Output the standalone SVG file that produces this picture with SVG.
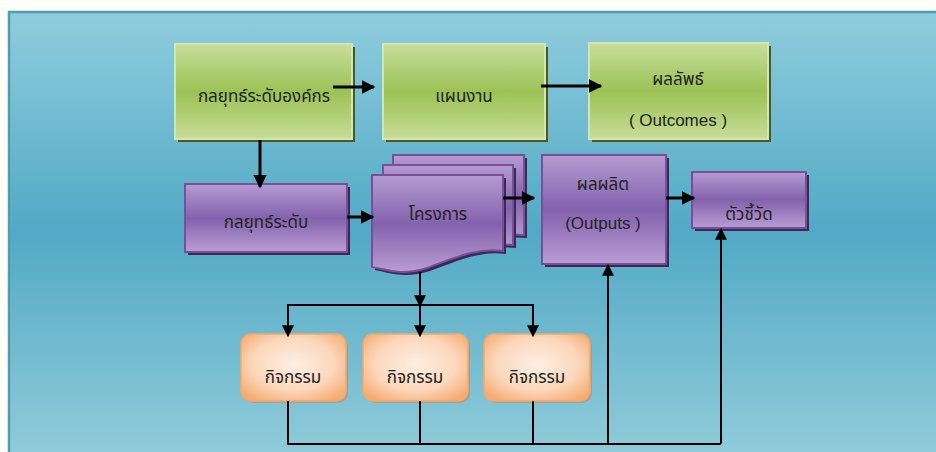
<svg xmlns="http://www.w3.org/2000/svg" width="936" height="452" viewBox="0 0 936 452">
  <defs>
    <linearGradient id="panelGrad" x1="0" y1="0" x2="0" y2="1">
      <stop offset="0" stop-color="#8fcddd"/>
      <stop offset="0.5" stop-color="#52a9c5"/>
      <stop offset="1" stop-color="#8fcbd9"/>
    </linearGradient>
    <linearGradient id="greenGrad" x1="0" y1="0" x2="0" y2="1">
      <stop offset="0" stop-color="#c8de9c"/>
      <stop offset="0.5" stop-color="#9cc255"/>
      <stop offset="1" stop-color="#c6dc97"/>
    </linearGradient>
    <linearGradient id="purpleGrad" x1="0" y1="0" x2="0" y2="1">
      <stop offset="0" stop-color="#b69bd2"/>
      <stop offset="0.5" stop-color="#8262ad"/>
      <stop offset="1" stop-color="#b99dd3"/>
    </linearGradient>
    <radialGradient id="orangeGrad" cx="0.5" cy="0.45" r="0.65">
      <stop offset="0" stop-color="#fdefe4"/>
      <stop offset="0.6" stop-color="#fbd7bb"/>
      <stop offset="1" stop-color="#f5ac72"/>
    </radialGradient>
    <marker id="arrow" viewBox="0 0 10 10" refX="9" refY="5" markerWidth="4.5" markerHeight="4.5" orient="auto" markerUnits="strokeWidth">
      <path d="M0,0 L10,5 L0,10 Z" fill="#000"/>
    </marker>
    <marker id="arrowThin" viewBox="0 0 10 10" refX="9" refY="5" markerWidth="6" markerHeight="6" orient="auto" markerUnits="strokeWidth">
      <path d="M0,0 L10,5 L0,10 Z" fill="#000"/>
    </marker>
  </defs>
  <style>
    .green { fill: url(#greenGrad); stroke: #d4e6ad; stroke-width: 2; }
    .greenShadow { fill: #4b5a22; }
    .purple { fill: url(#purpleGrad); stroke: #7b4e9c; stroke-width: 2; }
    .purpleShadow { fill: #3a2b52; }
    .orange { fill: url(#orangeGrad); stroke: #f3a96b; stroke-width: 1.5; }
    .orangeShadow { fill: #b98a68; opacity: 0.6; }
    .label { font-family: "Noto Sans Thai", "Noto Sans", "DejaVu Sans", sans-serif; font-size: 17px; fill: #222; text-anchor: middle; }
    .latin { font-family: "Liberation Sans", Arial, sans-serif; font-size: 17px; fill: #222; text-anchor: middle; }
    .thick { stroke: #000; stroke-width: 3; fill: none; }
    .thin { stroke: #000; stroke-width: 2; fill: none; }
  </style>

  <!-- page and panel -->
  <rect x="0" y="0" width="936" height="452" fill="#fffffa"/>
  <rect x="8" y="11" width="928" height="441" fill="url(#panelGrad)"/>
  <path d="M9,452 V12 H936" fill="none" stroke="#4e9eae" stroke-width="2.5"/>

  <!-- top row -->
  <g id="org-strategy">
    <rect class="greenShadow" x="178" y="47" width="177" height="95"/>
    <rect class="green" x="175" y="44" width="177" height="95"/>
    <text class="label" x="264" y="102">กลยุทธ์ระดับองค์กร</text>
  </g>
  <g id="work-plan">
    <rect class="greenShadow" x="386" y="47" width="162" height="95"/>
    <rect class="green" x="383" y="44" width="162" height="95"/>
    <text class="label" x="464" y="102">แผนงาน</text>
  </g>
  <g id="outcomes">
    <rect class="greenShadow" x="592" y="46" width="179" height="96"/>
    <rect class="green" x="589" y="43" width="179" height="96"/>
    <text class="label" x="678" y="85">ผลลัพธ์</text>
    <text class="latin" x="678" y="126">( Outcomes )</text>
  </g>

  <!-- middle row -->
  <g id="strategy">
    <rect class="purpleShadow" x="188" y="187" width="162" height="68"/>
    <rect class="purple" x="185" y="184" width="162" height="68"/>
    <text class="label" x="266" y="228">กลยุทธ์ระดับ</text>
  </g>
  <g id="projects">
    <path class="purpleShadow" d="M396,158 H527 V238 C510,236 500,240 493,242 H396 Z"/>
    <path class="purple" d="M393,155 H524 V235 C508,233 498,237 490,240 H393 Z"/>
    <path class="purpleShadow" d="M386,168 H516 V248 C500,246 490,250 480,253 H386 Z"/>
    <path class="purple" d="M383,165 H513 V245 C497,243 487,247 477,250 H383 Z"/>
    <path class="purpleShadow" d="M375,178 H506 V254 C480,250 455,262 430,271 C405,279 390,273 375,270 Z"/>
    <path class="purple" d="M372,175 H503 V251 C477,247 452,259 427,268 C402,276 387,270 372,267 Z"/>
    <text class="label" x="438" y="220">โครงการ</text>
  </g>
  <g id="outputs">
    <rect class="purpleShadow" x="545" y="158" width="124" height="109"/>
    <rect class="purple" x="542" y="155" width="124" height="109"/>
    <text class="label" x="603" y="190">ผลผลิต</text>
    <text class="latin" x="603" y="229">(Outputs )</text>
  </g>
  <g id="indicators">
    <rect class="purpleShadow" x="695" y="175" width="114" height="56"/>
    <rect class="purple" x="692" y="172" width="114" height="56"/>
    <text class="label" x="749" y="220">ตัวชี้วัด</text>
  </g>

  <!-- activities -->
  <g id="activity-1">
    <rect class="orangeShadow" x="243" y="336" width="105" height="67" rx="10"/>
    <rect class="orange" x="241" y="334" width="105" height="67" rx="10"/>
    <text class="label" x="293" y="383">กิจกรรม</text>
  </g>
  <g id="activity-2">
    <rect class="orangeShadow" x="365" y="336" width="105" height="67" rx="10"/>
    <rect class="orange" x="363" y="334" width="105" height="67" rx="10"/>
    <text class="label" x="415" y="383">กิจกรรม</text>
  </g>
  <g id="activity-3">
    <rect class="orangeShadow" x="486" y="336" width="106" height="67" rx="10"/>
    <rect class="orange" x="484" y="334" width="106" height="67" rx="10"/>
    <text class="label" x="537" y="383">กิจกรรม</text>
  </g>

  <!-- connectors -->
  <g id="connectors">
    <line class="thick" x1="333" y1="87" x2="374" y2="87" marker-end="url(#arrow)"/>
    <line class="thick" x1="541" y1="86" x2="601" y2="86" marker-end="url(#arrow)"/>
    <line class="thick" x1="260" y1="140" x2="260" y2="187" marker-end="url(#arrow)"/>
    <line class="thick" x1="347" y1="217" x2="373" y2="217" marker-end="url(#arrow)"/>
    <line class="thick" x1="503" y1="198" x2="534" y2="198" marker-end="url(#arrow)"/>
    <line class="thick" x1="666" y1="198" x2="694" y2="198" marker-end="url(#arrow)"/>
    <line class="thin" x1="420" y1="272" x2="420" y2="306" marker-end="url(#arrowThin)"/>
    <path class="thin" d="M288,305 H533"/>
    <line class="thin" x1="288" y1="304" x2="288" y2="336" marker-end="url(#arrowThin)"/>
    <line class="thin" x1="420" y1="304" x2="420" y2="336" marker-end="url(#arrowThin)"/>
    <line class="thin" x1="533" y1="304" x2="533" y2="336" marker-end="url(#arrowThin)"/>
    <path class="thin" d="M288,401 V444 H721"/>
    <line class="thin" x1="420" y1="401" x2="420" y2="444"/>
    <line class="thin" x1="533" y1="401" x2="533" y2="444"/>
    <line class="thin" x1="608" y1="444" x2="608" y2="265" marker-end="url(#arrowThin)"/>
    <line class="thin" x1="721" y1="444" x2="721" y2="229" marker-end="url(#arrowThin)"/>
  </g>
</svg>
